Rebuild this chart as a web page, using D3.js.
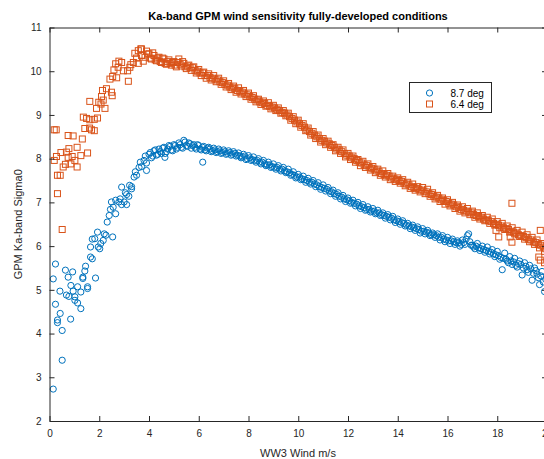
<!DOCTYPE html>
<html>
<head>
<meta charset="utf-8">
<script src="https://cdn.jsdelivr.net/npm/d3@7"></script>
<style>
  html, body { margin: 0; padding: 0; background: #fff; }
  svg { display: block; font-family: "Liberation Sans", Arial, Helvetica, sans-serif; }
</style>
</head>
<body>
<div id="chart"></div>
<script>
// values
const xTicks = [0, 2, 4, 6, 8, 10, 12, 14, 16, 18, 20]
const yTicks = [2, 3, 4, 5, 6, 7, 8, 9, 10, 11]
const seriesNames = ['8.7 deg', '6.4 deg']

// 8.7 deg incidence, low winds (scattered)
const blueLow = [
  [0.15, 2.73], [0.51, 3.39], [0.51, 4.07], [0.32, 4.25], [0.32, 4.31], [0.43, 4.46], [0.85, 4.33],
  [0.24, 4.67], [0.15, 5.25], [0.24, 5.59], [0.42, 4.97], [0.64, 5.45], [0.75, 5.29], [0.93, 5.41],
  [0.68, 4.88], [0.78, 4.85], [0.86, 5.10], [0.95, 4.97], [1.02, 4.84], [1.02, 4.76], [1.13, 5.07],
  [1.13, 4.70], [1.26, 4.57], [1.26, 4.95], [1.34, 5.26], [1.34, 5.29], [1.42, 5.43], [1.45, 5.54],
  [1.53, 5.07], [1.53, 5.03], [1.65, 5.75], [1.72, 5.71], [1.85, 5.27], [1.65, 5.98], [1.72, 6.16],
  [1.82, 6.17], [1.93, 6.32], [1.96, 5.98], [2.06, 6.06], [2.02, 5.94], [2.16, 6.13], [2.20, 6.28],
  [2.27, 6.25], [2.54, 6.21], [2.32, 6.55], [2.40, 6.70], [2.45, 6.84], [2.56, 6.89], [2.66, 6.74],
  [2.49, 7.01], [2.66, 7.05], [2.79, 7.01], [2.90, 6.95], [3.00, 7.01], [3.10, 6.95], [2.90, 7.35],
  [3.10, 7.18], [3.19, 7.14], [3.22, 7.39], [3.30, 7.31], [3.90, 7.73], [4.64, 8.03], [6.16, 7.92],
  [2.84, 7.08], [3.05, 7.22], [3.45, 7.70], [3.65, 7.92], [3.85, 8.06]
]
// 8.7 deg, 3.3 .. 20 m/s
const blueWind = [
  3.3, 3.4, 3.5, 3.6, 3.7, 3.8, 3.9, 4.0, 4.1, 4.2, 4.3, 4.4, 4.5, 4.6, 4.7, 4.8, 4.9,
  5.0, 5.1, 5.2, 5.3, 5.4, 5.5, 5.6, 5.7, 5.8, 5.9, 6.0, 6.1, 6.2, 6.3, 6.4, 6.5, 6.6, 6.7, 6.8, 6.9,
  7.0, 7.1, 7.2, 7.3, 7.4, 7.5, 7.6, 7.7, 7.8, 7.9, 8.0, 8.1, 8.2, 8.3, 8.4, 8.5, 8.6, 8.7, 8.8, 8.9,
  9.0, 9.1, 9.2, 9.3, 9.4, 9.5, 9.6, 9.7, 9.8, 9.9, 10.0, 10.1, 10.2, 10.3, 10.4, 10.5, 10.6, 10.7, 10.8, 10.9,
  11.0, 11.1, 11.2, 11.3, 11.4, 11.5, 11.6, 11.7, 11.8, 11.9, 12.0, 12.1, 12.2, 12.3, 12.4, 12.5, 12.6, 12.7, 12.8, 12.9,
  13.0, 13.1, 13.2, 13.3, 13.4, 13.5, 13.6, 13.7, 13.8, 13.9, 14.0, 14.1, 14.2, 14.3, 14.4, 14.5, 14.6, 14.7, 14.8, 14.9,
  15.0, 15.1, 15.2, 15.3, 15.4, 15.5, 15.6, 15.7, 15.8, 15.9, 16.0, 16.1, 16.2, 16.3, 16.4, 16.5, 16.6, 16.7, 16.8, 16.9,
  17.0, 17.1, 17.2, 17.3, 17.4, 17.5, 17.6, 17.7, 17.8, 17.9, 18.0, 18.1, 18.2, 18.3, 18.4, 18.5, 18.6, 18.7, 18.8, 18.9,
  19.0, 19.1, 19.2, 19.3, 19.4, 19.5, 19.6, 19.7, 19.8, 19.9, 20.0
]
const blueSigma = [
  7.36, 7.58, 7.62, 7.80, 7.82, 7.96, 7.90, 8.10, 8.02, 8.18, 8.08, 8.22, 8.12, 8.26, 8.16, 8.30, 8.20,
  8.32, 8.22, 8.36, 8.26, 8.42, 8.30, 8.36, 8.24, 8.32, 8.22, 8.30, 8.20, 8.28, 8.18, 8.26, 8.16, 8.24, 8.14, 8.22, 8.12,
  8.20, 8.10, 8.18, 8.08, 8.16, 8.06, 8.13, 8.02, 8.10, 7.98, 8.07, 7.96, 8.04, 7.92, 8.00, 7.88, 7.96, 7.84, 7.92, 7.80,
  7.88, 7.76, 7.84, 7.72, 7.80, 7.68, 7.76, 7.62, 7.70, 7.56, 7.64, 7.52, 7.60, 7.46, 7.55, 7.42, 7.50, 7.36, 7.45, 7.30,
  7.40, 7.26, 7.34, 7.20, 7.28, 7.14, 7.22, 7.08, 7.16, 7.02, 7.10, 6.98, 7.05, 6.92, 7.00, 6.86, 6.95, 6.82, 6.90, 6.78,
  6.86, 6.74, 6.82, 6.70, 6.76, 6.64, 6.72, 6.60, 6.68, 6.54, 6.62, 6.50, 6.58, 6.46, 6.52, 6.40, 6.48, 6.36, 6.44, 6.30,
  6.40, 6.28, 6.36, 6.24, 6.30, 6.20, 6.28, 6.14, 6.24, 6.10, 6.20, 6.06, 6.16, 6.04, 6.12, 6.00, 6.14, 6.04, 6.24, 6.10,
  6.02, 5.94, 6.06, 5.90, 6.00, 5.86, 5.98, 5.82, 5.92, 5.76, 5.88, 5.70, 5.46, 5.84, 5.66, 5.76, 5.58, 5.72, 5.52, 5.66,
  5.34, 5.62, 5.46, 5.56, 5.22, 5.50, 5.36, 5.12, 5.42, 4.96, 5.30
]
// 8.7 deg, second sample set 4.05 .. 19.95 m/s
const blueWindB = [
  4.05, 4.15, 4.25, 4.35, 4.45, 4.55, 4.65, 4.75, 4.85, 4.95, 5.05, 5.15, 5.25, 5.35, 5.45, 5.55, 5.65, 5.75, 5.85, 5.95,
  6.05, 6.15, 6.25, 6.35, 6.45, 6.55, 6.65, 6.75, 6.85, 6.95, 7.05, 7.15, 7.25, 7.35, 7.45, 7.55, 7.65, 7.75, 7.85, 7.95,
  8.05, 8.15, 8.25, 8.35, 8.45, 8.55, 8.65, 8.75, 8.85, 8.95, 9.05, 9.15, 9.25, 9.35, 9.45, 9.55, 9.65, 9.75, 9.85, 9.95,
  10.05, 10.15, 10.25, 10.35, 10.45, 10.55, 10.65, 10.75, 10.85, 10.95, 11.05, 11.15, 11.25, 11.35, 11.45, 11.55, 11.65, 11.75, 11.85, 11.95,
  12.05, 12.15, 12.25, 12.35, 12.45, 12.55, 12.65, 12.75, 12.85, 12.95, 13.05, 13.15, 13.25, 13.35, 13.45, 13.55, 13.65, 13.75, 13.85, 13.95,
  14.05, 14.15, 14.25, 14.35, 14.45, 14.55, 14.65, 14.75, 14.85, 14.95, 15.05, 15.15, 15.25, 15.35, 15.45, 15.55, 15.65, 15.75, 15.85, 15.95,
  16.05, 16.15, 16.25, 16.35, 16.45, 16.55, 16.65, 16.75, 16.85, 16.95, 17.05, 17.15, 17.25, 17.35, 17.45, 17.55, 17.65, 17.75, 17.85, 17.95,
  18.05, 18.15, 18.25, 18.35, 18.45, 18.55, 18.65, 18.75, 18.85, 18.95, 19.05, 19.15, 19.25, 19.35, 19.45, 19.55, 19.65, 19.75, 19.85, 19.95
]
const blueSigmaB = [
  8.14, 8.06, 8.20, 8.10, 8.16, 8.24, 8.12, 8.22, 8.28, 8.18, 8.30, 8.26, 8.32, 8.24, 8.38, 8.28, 8.34, 8.30, 8.26, 8.32,
  8.22, 8.26, 8.20, 8.24, 8.22, 8.18, 8.20, 8.16, 8.18, 8.14, 8.16, 8.12, 8.14, 8.10, 8.12, 8.08, 8.06, 8.04, 8.06, 8.00,
  8.02, 7.98, 7.96, 7.96, 7.92, 7.92, 7.88, 7.86, 7.86, 7.82, 7.80, 7.80, 7.76, 7.76, 7.72, 7.70, 7.68, 7.64, 7.62, 7.58,
  7.58, 7.54, 7.52, 7.50, 7.46, 7.46, 7.42, 7.40, 7.36, 7.34, 7.32, 7.30, 7.26, 7.24, 7.20, 7.18, 7.14, 7.12, 7.08, 7.06,
  7.04, 7.00, 6.98, 6.96, 6.92, 6.90, 6.88, 6.84, 6.84, 6.80, 6.80, 6.76, 6.76, 6.72, 6.70, 6.68, 6.66, 6.64, 6.60, 6.58,
  6.56, 6.54, 6.52, 6.48, 6.46, 6.44, 6.42, 6.40, 6.38, 6.34, 6.34, 6.32, 6.30, 6.26, 6.26, 6.24, 6.20, 6.20, 6.16, 6.14,
  6.12, 6.12, 6.10, 6.08, 6.08, 6.04, 6.08, 6.16, 6.28, 6.02, 5.98, 6.00, 5.96, 5.94, 5.92, 5.90, 5.88, 5.86, 5.82, 5.80,
  5.78, 5.74, 5.72, 5.70, 5.62, 5.66, 5.64, 5.56, 5.60, 5.58, 5.50, 5.54, 5.40, 5.48, 5.38, 5.44, 5.28, 5.32, 5.18, 5.24
]

// 6.4 deg incidence, low winds (scattered) and a few outliers at high wind
const orangeLow = [
  [0.19, 8.66], [0.27, 8.66], [0.32, 7.20], [0.51, 6.38], [0.32, 7.62], [0.43, 7.62], [0.19, 7.96],
  [0.28, 8.05], [0.46, 8.14], [0.55, 7.81], [0.68, 8.15], [0.78, 8.23], [0.75, 8.03], [0.64, 7.87],
  [0.86, 7.88], [0.75, 8.53], [0.95, 8.52], [0.91, 8.05], [1.02, 7.96], [1.11, 8.26], [1.11, 7.81],
  [1.26, 8.07], [1.32, 8.45], [1.42, 8.69], [1.53, 8.13], [1.36, 8.95], [1.49, 8.92], [1.62, 8.89],
  [1.80, 8.90], [1.93, 8.93], [1.69, 8.66], [1.61, 8.70], [1.80, 8.64], [1.62, 9.31], [1.89, 9.15],
  [2.07, 9.25], [2.23, 9.15], [1.98, 9.29], [2.09, 9.42], [2.16, 9.34], [2.13, 9.56], [2.29, 9.60],
  [2.49, 9.52], [2.52, 9.44], [2.43, 9.82], [2.54, 9.88], [2.70, 9.85], [2.59, 10.03], [2.66, 10.17],
  [2.79, 10.23], [2.90, 10.20], [2.76, 10.09], [2.97, 10.01], [3.14, 10.01], [3.23, 10.09], [3.17, 9.77],
  [3.27, 10.15], [3.37, 10.20], [3.43, 10.41], [3.57, 10.47], [3.67, 10.51], [3.50, 10.30], [3.70, 10.36],
  [3.84, 10.32], [3.97, 10.39], [3.57, 10.18], [3.77, 10.23], [3.70, 10.51], [3.90, 10.46],
  [18.59, 6.98], [19.73, 6.36], [17.95, 6.36], [18.06, 6.21], [18.52, 6.21], [18.59, 6.09],
  [19.67, 5.75], [19.73, 5.68], [19.90, 5.62]
]
// 6.4 deg, 4.0 .. 20 m/s
const orangeWind = [
  4.0, 4.1, 4.2, 4.3, 4.4, 4.5, 4.6, 4.7, 4.8, 4.9,
  5.0, 5.1, 5.2, 5.3, 5.4, 5.5, 5.6, 5.7, 5.8, 5.9, 6.0, 6.1, 6.2, 6.3, 6.4, 6.5, 6.6, 6.7, 6.8, 6.9,
  7.0, 7.1, 7.2, 7.3, 7.4, 7.5, 7.6, 7.7, 7.8, 7.9, 8.0, 8.1, 8.2, 8.3, 8.4, 8.5, 8.6, 8.7, 8.8, 8.9,
  9.0, 9.1, 9.2, 9.3, 9.4, 9.5, 9.6, 9.7, 9.8, 9.9, 10.0, 10.1, 10.2, 10.3, 10.4, 10.5, 10.6, 10.7, 10.8, 10.9,
  11.0, 11.1, 11.2, 11.3, 11.4, 11.5, 11.6, 11.7, 11.8, 11.9, 12.0, 12.1, 12.2, 12.3, 12.4, 12.5, 12.6, 12.7, 12.8, 12.9,
  13.0, 13.1, 13.2, 13.3, 13.4, 13.5, 13.6, 13.7, 13.8, 13.9, 14.0, 14.1, 14.2, 14.3, 14.4, 14.5, 14.6, 14.7, 14.8, 14.9,
  15.0, 15.1, 15.2, 15.3, 15.4, 15.5, 15.6, 15.7, 15.8, 15.9, 16.0, 16.1, 16.2, 16.3, 16.4, 16.5, 16.6, 16.7, 16.8, 16.9,
  17.0, 17.1, 17.2, 17.3, 17.4, 17.5, 17.6, 17.7, 17.8, 17.9, 18.0, 18.1, 18.2, 18.3, 18.4, 18.5, 18.6, 18.7, 18.8, 18.9,
  19.0, 19.1, 19.2, 19.3, 19.4, 19.5, 19.6, 19.7, 19.8, 19.9, 20.0
]
const orangeSigma = [
  10.40, 10.28, 10.36, 10.24, 10.32, 10.20, 10.28, 10.16, 10.26, 10.14,
  10.22, 10.10, 10.28, 10.12, 10.18, 10.06, 10.14, 10.02, 10.10, 9.96, 10.04, 9.90, 9.98, 9.84, 9.94, 9.80, 9.90, 9.76, 9.84, 9.70,
  9.78, 9.64, 9.72, 9.58, 9.66, 9.52, 9.62, 9.48, 9.56, 9.42, 9.50, 9.36, 9.44, 9.30, 9.36, 9.24, 9.32, 9.20, 9.28, 9.14,
  9.22, 9.10, 9.16, 9.04, 9.10, 8.98, 9.04, 8.88, 8.96, 8.80, 8.88, 8.72, 8.80, 8.64, 8.70, 8.54, 8.62, 8.46, 8.54, 8.38,
  8.46, 8.32, 8.40, 8.26, 8.32, 8.18, 8.26, 8.12, 8.20, 8.04, 8.12, 7.98, 8.06, 7.92, 7.98, 7.84, 7.94, 7.80, 7.88, 7.74,
  7.82, 7.68, 7.76, 7.62, 7.72, 7.58, 7.66, 7.52, 7.60, 7.48, 7.56, 7.44, 7.52, 7.38, 7.46, 7.32, 7.42, 7.28, 7.36, 7.24,
  7.34, 7.20, 7.30, 7.14, 7.22, 7.08, 7.16, 7.02, 7.10, 6.96, 7.06, 6.92, 7.00, 6.86, 6.94, 6.80, 6.90, 6.76, 6.86, 6.72,
  6.80, 6.66, 6.76, 6.62, 6.70, 6.58, 6.66, 6.52, 6.62, 6.48, 6.56, 6.42, 6.52, 6.38, 6.46, 6.32, 6.42, 6.28, 6.36, 6.22,
  6.32, 6.16, 6.26, 6.10, 6.20, 6.04, 6.14, 5.96, 6.06, 5.88, 5.98
]
// 6.4 deg, second sample set 4.05 .. 19.95 m/s
const orangeWindB = blueWindB
const orangeSigmaB = [
  10.30, 10.42, 10.26, 10.30, 10.22, 10.30, 10.18, 10.22, 10.18, 10.20, 10.14, 10.20, 10.16, 10.22, 10.10, 10.12, 10.08, 10.08, 10.02, 10.00,
  9.96, 9.96, 9.90, 9.90, 9.86, 9.84, 9.82, 9.80, 9.76, 9.74, 9.70, 9.68, 9.64, 9.62, 9.60, 9.56, 9.54, 9.52, 9.48, 9.46,
  9.42, 9.40, 9.36, 9.34, 9.30, 9.28, 9.26, 9.22, 9.20, 9.18, 9.16, 9.12, 9.10, 9.06, 9.04, 9.00, 8.96, 8.92, 8.88, 8.84,
  8.80, 8.76, 8.72, 8.66, 8.62, 8.58, 8.54, 8.50, 8.46, 8.42, 8.40, 8.36, 8.34, 8.30, 8.26, 8.22, 8.20, 8.16, 8.12, 8.08,
  8.06, 8.02, 8.00, 7.96, 7.92, 7.90, 7.86, 7.84, 7.80, 7.78, 7.76, 7.72, 7.70, 7.66, 7.64, 7.62, 7.60, 7.56, 7.54, 7.52,
  7.50, 7.48, 7.44, 7.42, 7.40, 7.36, 7.34, 7.32, 7.30, 7.28, 7.26, 7.24, 7.20, 7.18, 7.14, 7.12, 7.10, 7.06, 7.04, 7.02,
  6.98, 6.96, 6.94, 6.90, 6.88, 6.84, 6.82, 6.80, 6.78, 6.76, 6.72, 6.70, 6.68, 6.66, 6.62, 6.60, 6.58, 6.56, 6.52, 6.50,
  6.48, 6.46, 6.42, 6.40, 6.38, 6.34, 6.32, 6.30, 6.26, 6.24, 6.22, 6.20, 6.16, 6.14, 6.10, 6.08, 6.04, 6.02, 5.98, 5.94
]

const colors = ['#0072BD', '#D95319']
const axisColor = '#262626'

const width = 544
const height = 459
const margin = { top: 27.5, right: -3, bottom: 38, left: 49.5 }

const svg = d3.select('#chart')
  .append('svg')
  .attr('width', width)
  .attr('height', height)

const x = d3.scaleLinear().domain([0, 20]).range([margin.left, width - margin.right])
const y = d3.scaleLinear().domain([2, 11]).range([height - margin.bottom, margin.top])

const pair = (ws, ss) => ws.map((w, i) => [w, ss[i]])
const blue = blueLow.concat(pair(blueWind, blueSigma), pair(blueWindB, blueSigmaB))
const orange = orangeLow.concat(pair(orangeWind, orangeSigma), pair(orangeWindB, orangeSigmaB))

// markers
const plot = svg.append('g')

plot.selectAll('circle.s1')
  .data(blue)
  .enter()
  .append('circle')
  .attr('class', 's1')
  .attr('cx', d => x(d[0]))
  .attr('cy', d => y(d[1]))
  .attr('r', 3.1)
  .attr('fill', 'none')
  .attr('stroke', colors[0])
  .attr('stroke-width', 1)

const sq = 6
plot.selectAll('rect.s2')
  .data(orange)
  .enter()
  .append('rect')
  .attr('class', 's2')
  .attr('x', d => x(d[0]) - sq / 2)
  .attr('y', d => y(d[1]) - sq / 2)
  .attr('width', sq)
  .attr('height', sq)
  .attr('fill', 'none')
  .attr('stroke', colors[1])
  .attr('stroke-width', 1)

// axes (ticks point inward, MATLAB box style)
function styleAxis(g) {
  g.select('.domain').attr('stroke', axisColor)
  g.selectAll('.tick line').attr('stroke', axisColor)
  g.selectAll('.tick text').attr('fill', axisColor).style('font-size', '10px')
}

svg.append('g')
  .attr('transform', `translate(0, ${y(2)})`)
  .call(d3.axisBottom(x).tickValues(xTicks).tickSizeInner(-5).tickSizeOuter(0).tickPadding(9))
  .call(styleAxis)

svg.append('g')
  .attr('transform', `translate(0, ${y(11)})`)
  .call(d3.axisTop(x).tickValues(xTicks).tickSizeInner(-5).tickSizeOuter(0).tickFormat(''))
  .call(styleAxis)

svg.append('g')
  .attr('transform', `translate(${x(0)}, 0)`)
  .call(d3.axisLeft(y).tickValues(yTicks).tickSizeInner(-5).tickSizeOuter(0).tickPadding(8))
  .call(styleAxis)

svg.append('g')
  .attr('transform', `translate(${x(20)}, 0)`)
  .call(d3.axisRight(y).tickValues(yTicks).tickSizeInner(-5).tickSizeOuter(0).tickFormat(''))
  .call(styleAxis)

svg.selectAll('.tick text').attr('font-family', null)

// title and labels
svg.append('text')
  .attr('x', 298)
  .attr('y', 19.5)
  .attr('text-anchor', 'middle')
  .attr('font-weight', 'bold')
  .attr('font-size', 11)
  .attr('fill', '#000')
  .text('Ka-band GPM wind sensitivity fully-developed conditions')

svg.append('text')
  .attr('x', 298)
  .attr('y', 457)
  .attr('text-anchor', 'middle')
  .attr('font-size', 11)
  .attr('fill', axisColor)
  .text('WW3 Wind m/s')

svg.append('text')
  .attr('transform', `translate(22, ${(y(2) + y(11)) / 2}) rotate(-90)`)
  .attr('text-anchor', 'middle')
  .attr('font-size', 11)
  .attr('fill', axisColor)
  .text('GPM Ka-band Sigma0')

// legend
const legend = svg.append('g').attr('transform', 'translate(409.5, 82.5)')
legend.append('rect')
  .attr('width', 82)
  .attr('height', 30)
  .attr('fill', '#fff')
  .attr('stroke', axisColor)
  .attr('stroke-width', 1)

const rows = legend.selectAll('g.row')
  .data(seriesNames)
  .enter()
  .append('g')
  .attr('class', 'row')
  .attr('transform', (d, i) => `translate(0, ${10.5 + i * 11})`)

rows.filter((d, i) => i === 0)
  .append('circle')
  .attr('cx', 20)
  .attr('cy', 0)
  .attr('r', 3.1)
  .attr('fill', 'none')
  .attr('stroke', colors[0])

rows.filter((d, i) => i === 1)
  .append('rect')
  .attr('x', 17)
  .attr('y', -3)
  .attr('width', sq)
  .attr('height', sq)
  .attr('fill', 'none')
  .attr('stroke', colors[1])

rows.append('text')
  .attr('x', 41)
  .attr('y', 0)
  .attr('dy', '0.35em')
  .attr('font-size', 10)
  .attr('fill', '#000')
  .text(d => d)
</script>
</body>
</html>
